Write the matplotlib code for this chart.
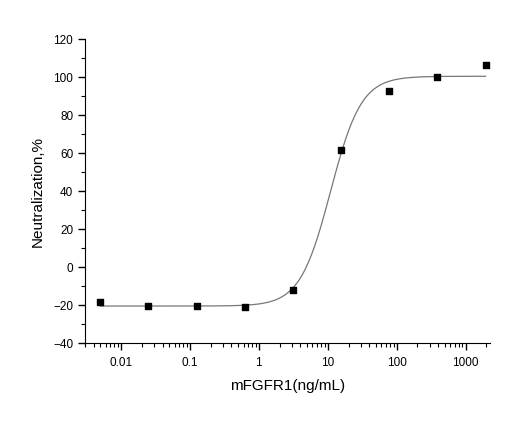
import numpy as np
import matplotlib
matplotlib.use("Agg")
import matplotlib.pyplot as plt
from matplotlib.ticker import MultipleLocator, LogLocator, FixedLocator, NullFormatter

plt.rcParams['font.family'] = ['Liberation Sans', 'DejaVu Sans']

# measured points (5-fold dilution series)
conc = [0.005, 0.025, 0.125, 0.625, 3.125, 15.625, 78.125, 390.625, 1953.125]
neutral = [-18.6, -20.4, -20.3, -20.9, -12.1, 61.9, 92.6, 100.0, 106.3]

# 4-parameter logistic fit
bottom, top, ec50, hill = -20.5, 100.5, 11.0, 1.95

fig = plt.figure(figsize=(5.2, 4.22), dpi=100)
ax = fig.add_axes([0.1635, 0.187, 0.7785, 0.72])

xs = np.logspace(np.log10(conc[0]), np.log10(conc[-1]), 400)
ys = bottom + (top - bottom) / (1 + (ec50 / xs) ** hill)
ax.plot(xs, ys, color='#777777', lw=0.9)
ax.scatter(conc, neutral, marker='s', s=22, color='black', zorder=3)

ax.set_xscale('log')
ax.set_xlim(0.003, 2250)
ax.set_ylim(-40, 120)
ax.yaxis.set_major_locator(MultipleLocator(20))
ax.yaxis.set_minor_locator(MultipleLocator(10))
ax.xaxis.set_major_locator(FixedLocator([0.01, 0.1, 1, 10, 100, 1000]))
ax.set_xticklabels(['0.01', '0.1', '1', '10', '100', '1000'])
ax.xaxis.set_minor_locator(LogLocator(base=10, subs=np.arange(2, 10)))
ax.xaxis.set_minor_formatter(NullFormatter())

for s in ['top', 'right']:
    ax.spines[s].set_visible(False)
ax.tick_params(which='major', length=5, width=1, direction='out', labelsize=8.5)
ax.tick_params(axis='x', which='major', pad=5)
ax.tick_params(which='minor', length=3, width=0.8, direction='out')

ax.set_xlabel('mFGFR1(ng/mL)', fontsize=11, labelpad=7)
ax.set_ylabel('Neutralization,%', fontsize=11, labelpad=6)

fig.savefig('out.png', dpi=100)
